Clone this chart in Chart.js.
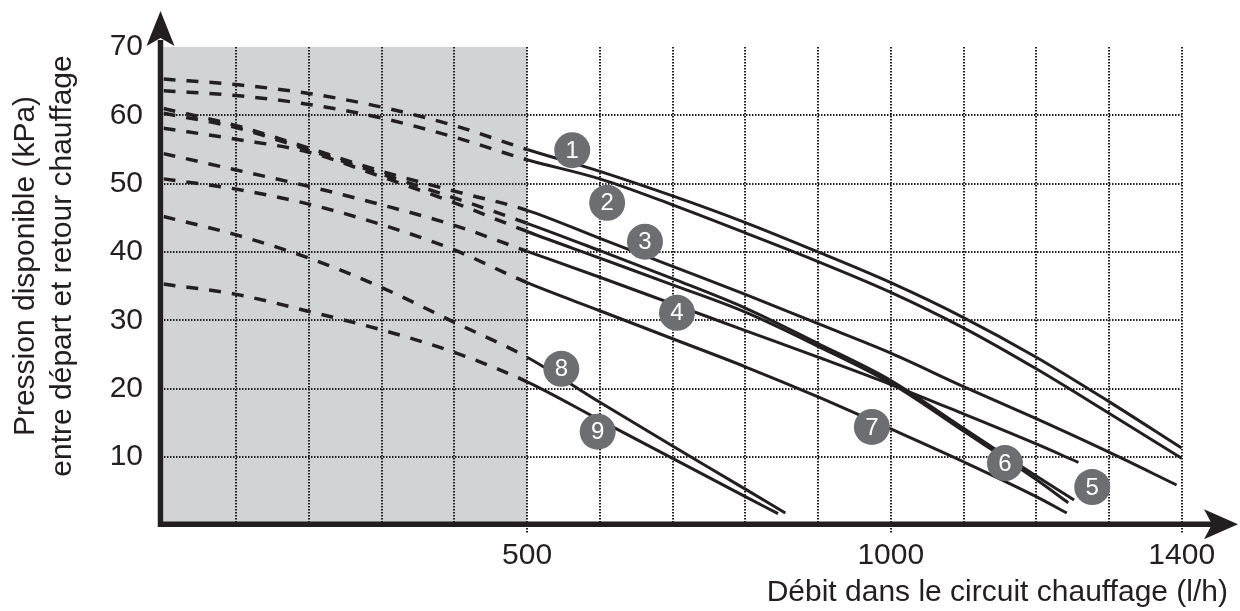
<!DOCTYPE html>
<html>
<head>
<meta charset="utf-8">
<script src="https://cdn.jsdelivr.net/npm/chart.js@4.4.0/dist/chart.umd.min.js"></script>
<style>
  html, body { margin: 0; padding: 0; background: #fff; }
  canvas { display: block; }
</style>
</head>
<body>
<canvas id="chart" width="1240" height="611"></canvas>
<script>
// flow (l/h) and available pressure (kPa) for each pump curve
const flow1 = [0, 100, 200, 300, 400, 500, 600, 700, 800, 900, 1000, 1100, 1200, 1300, 1400];
const kpa1  = [65.3, 64.5, 63.2, 61.2, 58.5, 55.0, 51.8, 48.2, 44.3, 40.0, 35.5, 30.4, 24.6, 18.1, 11.3];
const flow2 = [0, 100, 200, 300, 400, 500, 600, 700, 800, 900, 1000, 1100, 1200, 1300, 1400];
const kpa2  = [63.6, 62.9, 61.6, 59.6, 56.8, 53.5, 50.7, 46.9, 42.8, 38.6, 34.1, 28.9, 22.9, 16.4, 9.8];
const flow3 = [0, 100, 200, 300, 400, 500, 600, 700, 800, 900, 1000, 1100, 1200, 1300, 1393];
const kpa3  = [61.0, 58.5, 55.2, 51.8, 48.9, 46.1, 42.0, 37.9, 33.8, 29.5, 25.2, 20.3, 15.6, 10.7, 5.9];
const flow4 = [0, 100, 200, 300, 400, 500, 600, 700, 800, 900, 1000, 1100, 1200, 1258];
const kpa4  = [54.4, 52.0, 49.6, 46.9, 43.9, 40.1, 36.3, 32.4, 28.5, 24.6, 20.6, 16.3, 11.9, 9.2];
const flow5 = [0, 100, 200, 300, 400, 500, 600, 700, 800, 900, 1000, 1100, 1200, 1252];
const kpa5  = [60.3, 58.2, 54.9, 51.4, 47.9, 44.2, 40.2, 36.1, 31.8, 26.6, 21.2, 14.2, 7.2, 3.7];
const flow6 = [0, 100, 200, 300, 400, 500, 600, 700, 800, 900, 1000, 1100, 1200, 1244];
const kpa6  = [58.1, 56.5, 54.6, 51.0, 47.2, 43.0, 39.1, 35.2, 31.2, 26.2, 20.8, 13.8, 6.7, 3.3];
const flow7 = [0, 100, 200, 300, 400, 500, 600, 700, 800, 900, 1000, 1100, 1200, 1242];
const kpa7  = [50.7, 49.2, 47.0, 44.0, 40.3, 35.5, 31.4, 27.3, 23.2, 18.8, 14.1, 9.3, 4.2, 1.8];
const flow8 = [0, 100, 200, 300, 400, 500, 600, 700, 800, 855];
const kpa8  = [45.2, 42.5, 39.1, 34.8, 29.7, 24.6, 18.0, 11.6, 5.3, 1.8];
const flow9 = [0, 100, 200, 300, 400, 500, 600, 700, 800, 845];
const kpa9  = [35.3, 33.8, 31.3, 28.6, 25.3, 21.0, 15.4, 9.8, 4.2, 1.7];

// curve numbers and where their badges sit (in flow / kPa)
const curveNames = ['1', '2', '3', '4', '5', '6', '7', '8', '9'];
const badgeFlow  = [562, 610, 662, 706, 1277, 1157, 974, 547, 597];
const badgeKpa   = [54.9, 47.2, 41.5, 31.1, 5.6, 9.1, 14.4, 22.9, 13.7];

const xTickLabels = [500, 1000, 1400];
const shadeUntil = 500;   // grey zone, dashed part of the curves

const yTitle = ['Pression disponible (kPa)', 'entre départ et retour chauffage'];
const xTitle = 'Débit dans le circuit chauffage (l/h)';

const ink = '#231f20';
const family = '"Liberation Sans", Arial, Helvetica, sans-serif';

const curves = [[flow1, kpa1], [flow2, kpa2], [flow3, kpa3], [flow4, kpa4], [flow5, kpa5],
                [flow6, kpa6], [flow7, kpa7], [flow8, kpa8], [flow9, kpa9]];

const lineSets = curves.map(([f, p]) => ({
  type: 'line',
  data: f.map((v, i) => ({x: v, y: p[i]})),
  borderColor: ink,
  borderWidth: 3,
  pointRadius: 0,
  cubicInterpolationMode: 'monotone',
  order: 1,
  segment: {
    borderDash: c => c.p1.parsed.x <= shadeUntil ? [12, 11] : undefined,
    borderWidth: c => c.p1.parsed.x <= shadeUntil ? 3.5 : 3
  }
}));

const badgeSet = {
  type: 'scatter',
  data: badgeFlow.map((v, i) => ({x: v, y: badgeKpa[i]})),
  pointRadius: 18,
  pointHoverRadius: 18,
  pointBackgroundColor: '#6d6e71',
  pointBorderWidth: 0,
  order: 0
};

const decor = {
  id: 'decor',
  beforeDraw(chart) {
    const {ctx, scales: {x, y}} = chart;
    const x0 = x.getPixelForValue(0), x1 = x.getPixelForValue(shadeUntil);
    const y0 = y.getPixelForValue(0), y1 = y.getPixelForValue(70);
    ctx.save();
    ctx.fillStyle = '#d1d3d4';
    ctx.fillRect(x0, y1, x1 - x0, y0 - y1);
    ctx.restore();
  },
  afterDatasetsDraw(chart) {
    const {ctx, chartArea: a} = chart;
    const ax = a.left - 3, ay = a.bottom - 1;
    ctx.save();
    // axes with arrows
    ctx.strokeStyle = ink;
    ctx.lineWidth = 5.5;
    ctx.beginPath();
    ctx.moveTo(ax, ay + 2.75); ctx.lineTo(ax, 40);
    ctx.moveTo(ax - 2.75, ay); ctx.lineTo(1214, ay);
    ctx.stroke();
    ctx.fillStyle = ink;
    ctx.beginPath();
    ctx.moveTo(ax, 11); ctx.lineTo(ax + 14, 46); ctx.lineTo(ax, 38); ctx.lineTo(ax - 14, 46);
    ctx.closePath(); ctx.fill();
    ctx.beginPath();
    ctx.moveTo(1238, ay); ctx.lineTo(1204, ay + 15); ctx.lineTo(1212, ay); ctx.lineTo(1204, ay - 15);
    ctx.closePath(); ctx.fill();
    // badge numbers
    const meta = chart.getDatasetMeta(lineSets.length);
    ctx.fillStyle = '#fff';
    ctx.font = '24px ' + family;
    ctx.textAlign = 'center';
    ctx.textBaseline = 'middle';
    meta.data.forEach((pt, i) => ctx.fillText(curveNames[i], pt.x, pt.y + 1));
    // two-line y title, sitting a little above the plot centre as in the source
    ctx.fillStyle = ink;
    ctx.font = '30px ' + family;
    ctx.translate(0, 266);
    ctx.rotate(-Math.PI / 2);
    yTitle.forEach((t, i) => ctx.fillText(t, 0, 26 + i * 37));
    ctx.restore();
  }
};

const dotted = [1.5, 1.5];

new Chart(document.getElementById('chart'), {
  type: 'line',
  data: { datasets: [...lineSets, badgeSet] },
  options: {
    responsive: false,
    animation: false,
    events: [],
    layout: { padding: { top: 47, right: 12, bottom: 0, left: 0 } },
    plugins: {
      legend: { display: false },
      tooltip: { enabled: false },
      title: {
        display: true,
        position: 'bottom',
        align: 'end',
        text: xTitle,
        color: ink,
        font: { family, size: 30, weight: 'normal', lineHeight: 1.2 },
        padding: { top: 0, bottom: 0 }
      }
    },
    scales: {
      x: {
        type: 'linear',
        min: 0,
        max: 1400,
        afterFit: s => { s.height = 49.7; },
        border: { display: false, dash: dotted },
        grid: {
          color: c => c.tick && c.tick.value === 0 ? 'transparent' : ink,
          lineWidth: 2,
          drawTicks: true,
          tickLength: 8,
          tickColor: c => c.tick && xTickLabels.includes(c.tick.value) ? ink : 'transparent',
          tickBorderDash: dotted
        },
        ticks: {
          stepSize: 100,
          autoSkip: false,
          maxRotation: 0,
          padding: 4,
          color: ink,
          font: { family, size: 30 },
          callback: v => xTickLabels.includes(v) ? String(v) : ''
        }
      },
      y: {
        type: 'linear',
        position: 'left',
        min: 0,
        max: 70,
        afterFit: s => { s.width = 163.5; },
        border: { display: false, dash: dotted },
        grid: {
          color: c => c.tick && (c.tick.value === 0 || c.tick.value === 70) ? 'transparent' : ink,
          lineWidth: 2,
          drawTicks: false
        },
        ticks: {
          stepSize: 10,
          padding: 20.5,
          color: ink,
          font: { family, size: 30 },
          callback: v => v === 0 ? '' : String(v)
        }
      },
      y2: {
        type: 'linear',
        position: 'right',
        afterFit: s => { s.width = 46.3; },
        border: { display: false },
        grid: { display: false },
        ticks: { display: false }
      }
    }
  },
  plugins: [decor]
});
</script>
</body>
</html>
